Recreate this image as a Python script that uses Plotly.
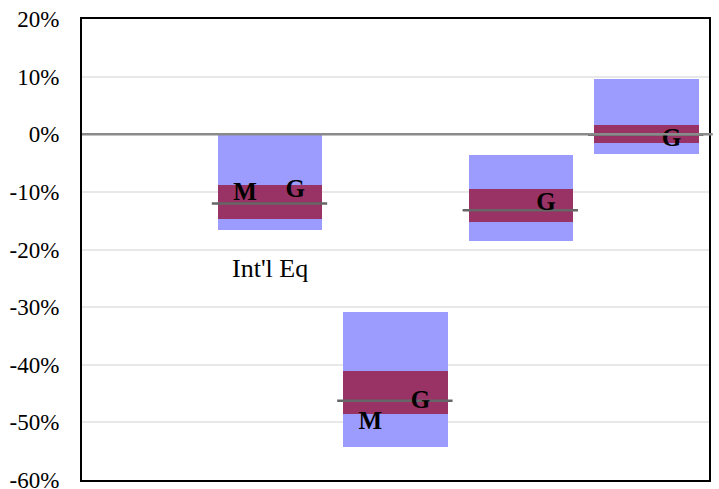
import plotly.graph_objects as go

categories = ["", "Int'l Eq", "", "", ""]
cat_idx = [1, 2, 3, 4]
range_low = [-16.7, -54.2, -18.6, -3.4]
range_high = [0.0, -30.85, -3.6, 9.6]
band_low = [-14.7, -48.5, -15.2, -1.5]
band_high = [-8.75, -41.1, -9.5, 1.6]
median = [-12.0, -46.25, -13.2, -0.1]
m_vals = [-10.4, -50.0, None, None]
g_vals = [-9.8, -46.4, -12.1, -0.9]
y_ticks = [20, 10, 0, -10, -20, -30, -40, -50, -60]

BW = 0.835
fig = go.Figure()
fig.add_trace(go.Bar(x=cat_idx, base=range_low,
                     y=[h - l for h, l in zip(range_high, range_low)],
                     width=BW, marker=dict(color="#9c9cff", line=dict(width=0)),
                     showlegend=False, hoverinfo="skip"))
fig.add_trace(go.Bar(x=cat_idx, base=band_low,
                     y=[h - l for h, l in zip(band_high, band_low)],
                     width=BW, marker=dict(color="#993366", line=dict(width=0)),
                     showlegend=False, hoverinfo="skip"))

# median lines
mx, my = [], []
for i, m in zip(cat_idx, median):
    mx += [i - 0.465, i + 0.455, None]
    my += [m, m, None]
fig.add_trace(go.Scatter(x=mx, y=my, mode="lines",
                         line=dict(color="#666666", width=2.5),
                         showlegend=False, hoverinfo="skip"))

# M / G letters
mxs = [i - 0.2 for i, v in zip(cat_idx, m_vals) if v is not None]
mys = [v for v in m_vals if v is not None]
fig.add_trace(go.Scatter(x=mxs, y=mys, mode="text", text=["<b>M</b>"] * len(mxs),
                         textposition="middle center",
                         textfont=dict(family="Liberation Serif", size=25, color="black"),
                         showlegend=False, hoverinfo="skip"))
gxs = [i + 0.2 for i in cat_idx]
fig.add_trace(go.Scatter(x=gxs, y=g_vals, mode="text", text=["<b>G</b>"] * len(gxs),
                         textposition="middle center",
                         textfont=dict(family="Liberation Serif", size=25, color="black"),
                         showlegend=False, hoverinfo="skip"))

# category label
for i, c in enumerate(categories):
    if c:
        fig.add_annotation(x=i, y=-23.3, text=c, showarrow=False,
                           xanchor="center", yanchor="middle",
                           font=dict(family="Liberation Serif", size=26, color="black"))

# zero line
fig.add_shape(type="line", xref="paper", yref="y", x0=0, x1=1.006, y0=0, y1=0,
              line=dict(color="#8a8a8a", width=2.5), layer="above")

fig.update_layout(
    width=719, height=489,
    margin=dict(l=82, r=10, t=19, b=9),
    paper_bgcolor="white", plot_bgcolor="white",
    barmode="overlay", bargap=0,
    xaxis=dict(range=[-0.5, 4.5], showticklabels=False, showgrid=False,
               zeroline=False, showline=True, linecolor="black", linewidth=2,
               mirror=True, fixedrange=True, automargin=False),
    yaxis=dict(range=[-60, 20], tickvals=y_ticks,
               ticktext=[f"{v}%" for v in y_ticks],
               tickfont=dict(family="Liberation Serif", size=23, color="black"),
               showgrid=True, gridcolor="#e8e8e8", gridwidth=2,
               zeroline=False, showline=True, linecolor="black", linewidth=2,
               mirror=True, ticks="", ticklabelstandoff=16, automargin=False,
               ticklabeloverflow="allow"),
)
fig.write_html("out.html", config={"displayModeBar": False},
               post_script="document.body.style.margin='0px';document.body.style.overflow='hidden';")
